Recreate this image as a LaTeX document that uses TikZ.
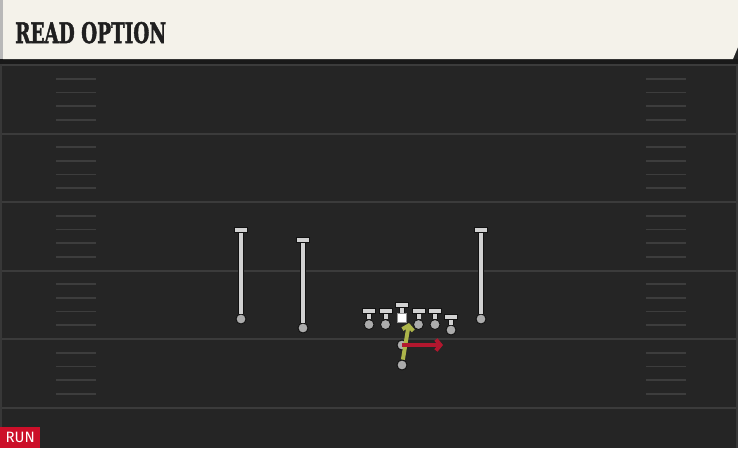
\documentclass[tikz,border=0pt]{standalone}
\usepackage{fontspec}
\usepackage{graphicx}
\usetikzlibrary{arrows.meta}
\setmainfont{DejaVu Serif}
\newfontfamily\titlefont[BoldFeatures={FakeBold=2}]{DejaVu Serif}
\newfontfamily\tagfont{Fira Sans}
\newlength{\du}
\setlength{\du}{1pt}

\definecolor{fieldcolor}{rgb}{0.145,0.145,0.145}
\definecolor{bandcolor}{rgb}{0.100,0.100,0.100}
\definecolor{linecolor}{rgb}{0.230,0.230,0.230}
\definecolor{hashcolor}{rgb}{0.240,0.240,0.240}
\definecolor{sidecolor}{rgb}{0.220,0.220,0.220}
\definecolor{titlecolor}{rgb}{0.957,0.949,0.918}
\definecolor{titleink}{rgb}{0.120,0.120,0.120}
\definecolor{edgecolor}{rgb}{0.720,0.720,0.720}
\definecolor{playercolor}{rgb}{0.820,0.820,0.820}
\definecolor{outlinecolor}{rgb}{0.070,0.070,0.070}
\definecolor{runcolor}{rgb}{0.800,0.060,0.160}
\definecolor{optioncolor}{rgb}{0.700,0.090,0.180}
\definecolor{divecolor}{rgb}{0.680,0.710,0.290}

\tikzset{
  yardline/.style={draw=linecolor, line width=2\du},
  hashline/.style={draw=hashcolor, line width=1.7\du},
  sideline/.style={draw=sidecolor, line width=2\du},
  titletext/.style={anchor=base west, inner sep=0pt, text=titleink},
  runtag/.style={rectangle, fill=runcolor, text=white, font=\tagfont\fontsize{15}{15}\selectfont,
    anchor=south west, minimum width=40\du, minimum height=21\du, inner sep=0pt},
  tbar/.style={rectangle, fill=playercolor, draw=outlinecolor, line width=0.9pt,
    minimum width=13\du, minimum height=5.5\du, inner sep=0pt},
  spot/.style={circle, fill=playercolor!82!black, draw=outlinecolor, line width=0.9pt,
    minimum size=10\du, inner sep=0pt},
  snap/.style={rectangle, fill=white, draw=playercolor!70!black, line width=0.9pt,
    minimum size=9\du, inner sep=0pt},
  stem/.style={draw=outlinecolor, line width=0.9pt, double=playercolor, double distance=4pt},
  route/.style={line width=4pt, -{Straight Barb[length=4.5pt,width=11pt]}},
}

\begin{document}
\begin{tikzpicture}
\pgftransformxscale{1.000000}
\pgftransformyscale{-1.000000}
\useasboundingbox (0\du,0\du) rectangle (738\du,448\du);
% field
\fill[fieldcolor] (0\du,0\du) rectangle (738\du,448\du);
\fill[bandcolor] (0\du,59\du) rectangle (738\du,64\du);
\foreach \i in {0,...,5}{
\pgfmathsetmacro\ly{65+68.5*\i}
\draw[yardline] (0\du,\ly\du) -- (738\du,\ly\du);
}
\foreach \b in {0,...,4}{
\foreach \k in {1,...,4}{
\pgfmathsetmacro\hy{65+68.5*\b+13.7*\k}
\draw[hashline] (56\du,\hy\du) -- (96\du,\hy\du);
\draw[hashline] (646\du,\hy\du) -- (686\du,\hy\du);
}}
\draw[sideline] (1\du,64\du) -- (1\du,448\du);
\draw[sideline] (737\du,64\du) -- (737\du,448\du);
% title bar
\fill[titlecolor] (3\du,0\du) -- (738\du,0\du) -- (738\du,47\du) -- (733\du,59\du) -- (3\du,59\du) -- cycle;
\fill[edgecolor] (0\du,0\du) rectangle (3\du,59\du);
\node[titletext] (title) at (15\du,43\du) {\resizebox{151\du}{21\du}{\titlefont\bfseries READ OPTION}};
% receivers
\node[tbar] (wlcap) at (241\du,230\du) {};
\node[spot] (wl) at (241\du,319\du) {};
\node[tbar] (slcap) at (303\du,240\du) {};
\node[spot] (sl) at (303\du,328\du) {};
\node[tbar] (wrcap) at (481\du,230\du) {};
\node[spot] (wr) at (481\du,319\du) {};
% line
\node[tbar] (ltcap) at (369\du,311\du) {};
\node[spot] (lt) at (369\du,324.5\du) {};
\node[tbar] (lgcap) at (385.5\du,311\du) {};
\node[spot] (lg) at (385.5\du,324.5\du) {};
\node[tbar] (ctrcap) at (402\du,305\du) {};
\node[snap] (ctr) at (402\du,318\du) {};
\node[tbar] (rgcap) at (418.5\du,311\du) {};
\node[spot] (rg) at (418.5\du,324.5\du) {};
\node[tbar] (rtcap) at (435\du,311\du) {};
\node[spot] (rt) at (435\du,324.5\du) {};
\node[tbar] (tecap) at (451\du,317\du) {};
\node[spot] (te) at (451\du,330\du) {};
\foreach \p in {wl,sl,wr,lt,lg,ctr,rg,rt,te}{
\draw[stem] (\p cap) -- (\p);
}
% backfield
\node[spot] (qb) at (402\du,345\du) {};
\node[spot] (rb) at (402\du,365\du) {};
\coordinate (divept) at (409\du,323\du);
\coordinate (keept) at (443\du,345\du);
\draw[route, draw=divecolor] (rb) -- (divept);
\draw[route, draw=optioncolor] (qb.center) -- (keept);
% play type
\node[runtag] (run) at (0\du,448\du) {RUN};
\end{tikzpicture}
\end{document}
